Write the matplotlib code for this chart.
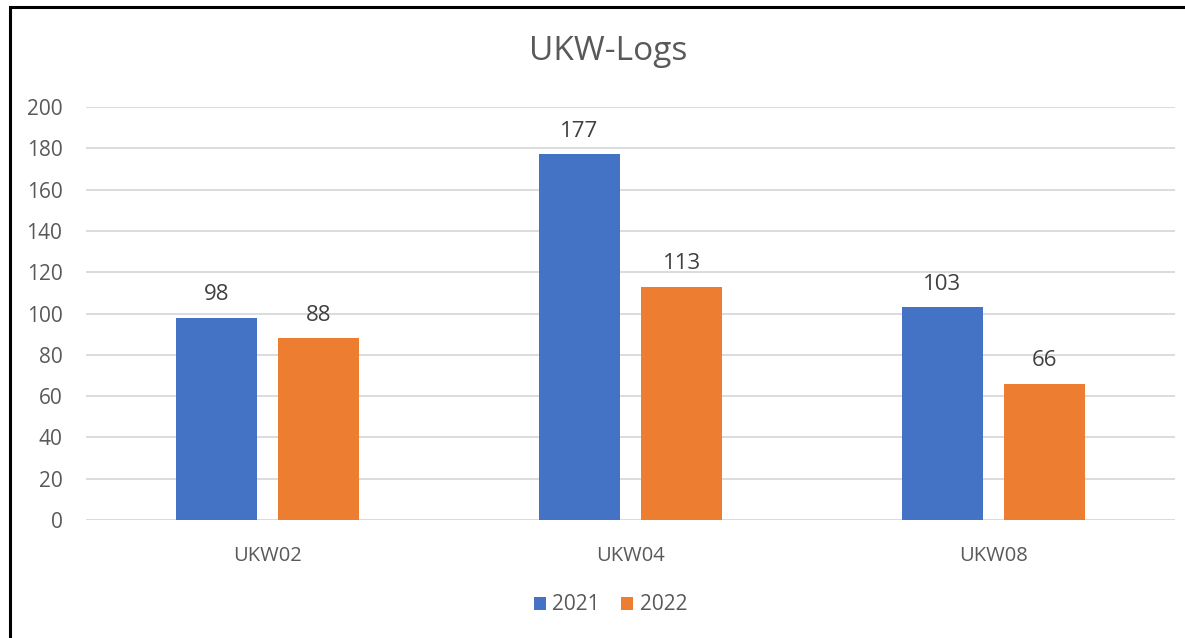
import numpy as np
import matplotlib.pyplot as plt
from matplotlib.patches import Rectangle

categories = ["UKW02", "UKW04", "UKW08"]
years = ["2021", "2022"]
vals_2021 = [98, 177, 103]
vals_2022 = [88, 113, 66]

plt.rcParams['font.family'] = ['Open Sans', 'DejaVu Sans']
txt = '#595959'

fig = plt.figure(figsize=(11.85, 6.38), dpi=100)
ax = fig.add_axes([86/1185, 1-520/638, (1175-86)/1185, (520-107)/638])

x = np.arange(len(categories))
w = 0.223
b1 = ax.bar(x - 0.141, vals_2021, w, color='#4472C4', label=years[0], zorder=3)
b2 = ax.bar(x + 0.141, vals_2022, w, color='#ED7D31', label=years[1], zorder=3)

for bars in (b1, b2):
    ax.bar_label(bars, padding=9, fontsize=16, color='#404040')

ax.set_xlim(-0.5, 2.5)
ax.set_ylim(0, 200)
ax.set_yticks(range(0, 201, 20))
ax.set_xticks(x)
ax.set_xticklabels(categories)
ax.grid(axis='y', color='#D9D9D9', linewidth=1.3, zorder=0)
for s in ax.spines.values():
    s.set_visible(False)
ax.tick_params(axis='y', length=0, pad=17, labelsize=15, labelcolor=txt)
ax.tick_params(axis='x', length=0, pad=19, labelsize=14.5, labelcolor=txt)

fig.text(0.513, 1-52/638, "UKW-Logs", ha='center', va='center', fontsize=24, color=txt)
fig.legend(loc='center', bbox_to_anchor=(0.515, 1-605/638), ncol=2, frameon=False,
           fontsize=15, labelcolor=txt, handlelength=0.6, handleheight=0.6,
           handletextpad=0.3, columnspacing=1.0)

fig.patches.append(Rectangle((10/1185, -0.05), 1.1, 1-7/638+0.05, transform=fig.transFigure,
                             fill=False, edgecolor='black', linewidth=2.2))

fig.savefig('out.png', dpi=100)
